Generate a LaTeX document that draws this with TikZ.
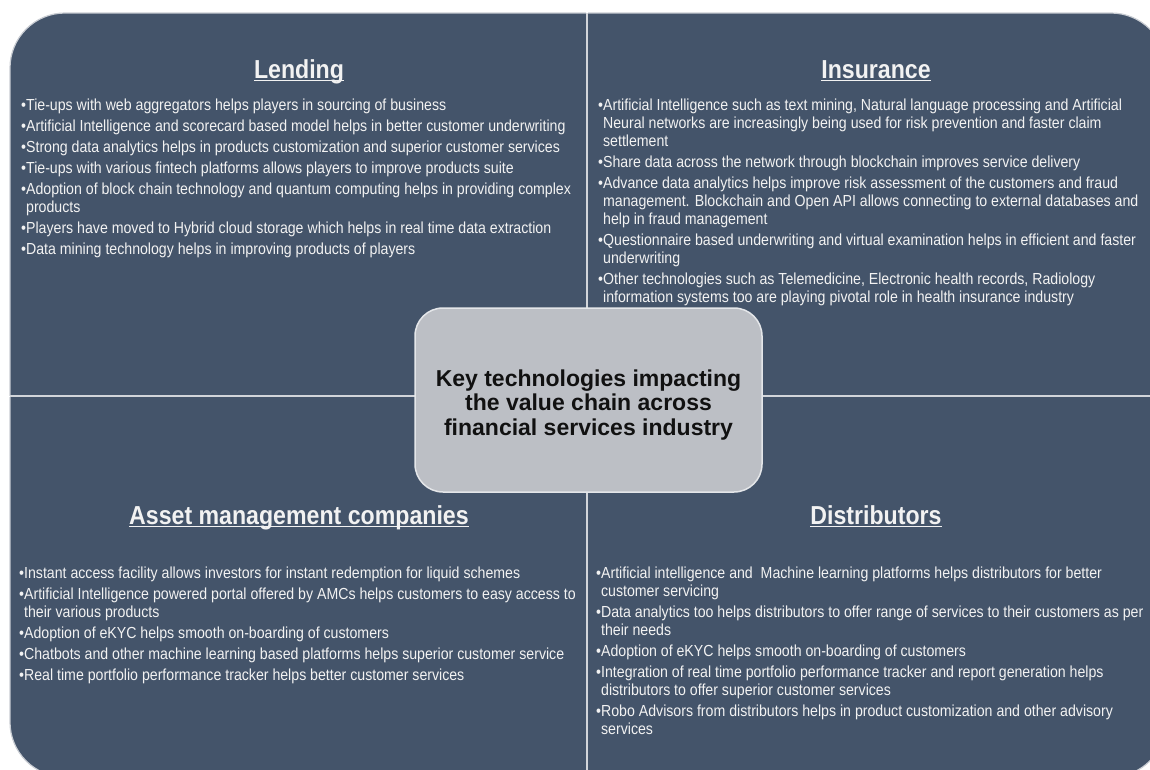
\documentclass[tikz,border=0pt]{standalone}
\usepackage{fontspec}
\setmainfont{Liberation Sans}
\newfontfamily\bodyfont{Liberation Sans}[FakeStretch=0.884]
\newfontfamily\headfont{Liberation Sans}[FakeStretch=0.89]
\newfontfamily\corefont{Liberation Sans}
\definecolor{quadfill}{HTML}{44546A}
\definecolor{edgecol}{HTML}{C9CDD3}
\definecolor{divcol}{HTML}{D2D5DA}
\definecolor{txtcol}{HTML}{F2F2F2}
\definecolor{corefill}{HTML}{BCBFC5}
\definecolor{coreedge}{HTML}{E4E6E9}
\definecolor{coretxt}{HTML}{111111}
\newsavebox\ulbox
\newcommand\ultitle[1]{\sbox\ulbox{#1}\rlap{\rule[-3.4pt]{\wd\ulbox}{1.8pt}}\usebox\ulbox}
\newcommand\bl{•}
\newcommand\cont{\hphantom{•}}
\tikzset{
  quad/.style={fill=quadfill, draw=edgecol, line width=1.2pt, rounded corners=55pt},
  divider/.style={draw=divcol, line width=2pt},
  listtext/.style={text=txtcol, align=left, inner sep=0pt, anchor=base west,
    font=\bodyfont\fontsize{16}{18}\selectfont},
  headtext/.style={text=txtcol, inner sep=0pt, anchor=base,
    font=\headfont\bfseries\fontsize{26}{30}\selectfont},
  corebox/.style={rectangle, fill=corefill, draw=coreedge, line width=1.5pt,
    rounded corners=28pt, minimum width=347pt, minimum height=184pt, inner sep=0pt},
  coretext/.style={text=coretxt, align=center, inner sep=0pt,
    font=\corefont\bfseries\fontsize{23}{24.5}\selectfont}
}
\begin{document}
\begin{tikzpicture}[x=1pt,y=-1pt]
\useasboundingbox (0,0) rectangle (1150,769);
\clip (0,0) rectangle (1150,769);
% quadrants
\begin{scope}
  \clip (0,0) rectangle (586,395);
  \path[quad] (10,13) rectangle (800,700);
\end{scope}
\begin{scope}
  \clip (588,0) rectangle (1150,395);
  \path[quad] (400,13) rectangle (1166,700);
\end{scope}
\begin{scope}
  \clip (0,397) rectangle (586,769);
  \path[quad] (10,100) rectangle (800,777);
\end{scope}
\begin{scope}
  \clip (588,397) rectangle (1150,769);
  \path[quad] (400,100) rectangle (1166,777);
\end{scope}
\draw[divider] (587,13) -- (587,777);
\draw[divider] (10,396) -- (1166,396);

% titles
\node[headtext] (lendtitle) at (299,78) {\ultitle{Lending}};
\node[headtext] (institle) at (876,78) {\ultitle{Insurance}};
\node[headtext] (amctitle) at (299,524) {\ultitle{Asset management companies}};
\node[headtext] (disttitle) at (876,524) {\ultitle{Distributors}};

% lists (anchored at the baseline of their last line)
\node[listtext] (lendlist) at (21,254) {%
\bl Tie-ups with web aggregators helps players in sourcing of business\\[3pt]
\bl Artificial Intelligence and scorecard based model helps in better customer underwriting\\[3pt]
\bl Strong data analytics helps in products customization and superior customer services\\[3pt]
\bl Tie-ups with various fintech platforms allows players to improve products suite\\[3pt]
\bl Adoption of block chain technology and quantum computing helps in providing complex\\
\cont products\\[3pt]
\bl Players have moved to Hybrid cloud storage which helps in real time data extraction\\[3pt]
\bl Data mining technology helps in improving products of players};

\node[listtext] (inslist) at (598,302) {%
\bl Artificial Intelligence such as text mining, Natural language processing and Artificial\\
\cont Neural networks are increasingly being used for risk prevention and faster claim\\
\cont settlement\\[3pt]
\bl Share data across the network through blockchain improves service delivery\\[3pt]
\bl Advance data analytics helps improve risk assessment of the customers and fraud\\
\cont management. Blockchain and Open API allows connecting to external databases and\\
\cont help in fraud management\\[3pt]
\bl Questionnaire based underwriting and virtual examination helps in efficient and faster\\
\cont underwriting\\[3pt]
\bl Other technologies such as Telemedicine, Electronic health records, Radiology\\
\cont information systems too are playing pivotal role in health insurance industry};

\node[listtext] (amclist) at (19,680) {%
\bl Instant access facility allows investors for instant redemption for liquid schemes\\[3pt]
\bl Artificial Intelligence powered portal offered by AMCs helps customers to easy access to\\
\cont their various products\\[3pt]
\bl Adoption of eKYC helps smooth on-boarding of customers\\[3pt]
\bl Chatbots and other machine learning based platforms helps superior customer service\\[3pt]
\bl Real time portfolio performance tracker helps better customer services};

\node[listtext] (distlist) at (596,734) {%
\bl Artificial intelligence and\ \ Machine learning platforms helps distributors for better\\
\cont customer servicing\\[3pt]
\bl Data analytics too helps distributors to offer range of services to their customers as per\\
\cont their needs\\[3pt]
\bl Adoption of eKYC helps smooth on-boarding of customers\\[3pt]
\bl Integration of real time portfolio performance tracker and report generation helps\\
\cont distributors to offer superior customer services\\[3pt]
\bl Robo Advisors from distributors helps in product customization and other advisory\\
\cont services};

% centre
\node[corebox] (core) at (588.5,400) {};
\node[coretext] (coretitle) at (588.5,405) {Key technologies impacting\\the value chain across\\financial services industry};
\end{tikzpicture}
\end{document}
